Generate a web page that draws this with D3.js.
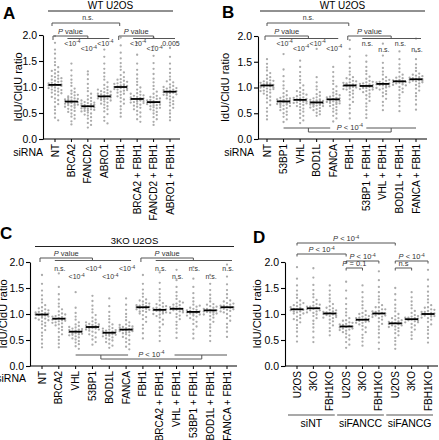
<!DOCTYPE html>
<html><head><meta charset="utf-8">
<script src="https://cdn.jsdelivr.net/npm/d3@7"></script>
<style>body{margin:0;background:#fff}svg{display:block}</style>
</head><body><svg id="c" width="439" height="440"></svg>
<script>
const FONT = '"Liberation Sans", Arial, Helvetica, sans-serif';
const yTicks = [0, 0.5, 1.0, 1.5, 2.0];

// ---------- Panel A (WT U2OS) ----------
const catsA = ["NT","BRCA2","FANCD2","ABRO1","FBH1","BRCA2 + FBH1","FANCD2 + FBH1","ABRO1 + FBH1"];
const mediansA = [1.04,0.72,0.63,0.82,1.00,0.77,0.71,0.91];
const dotsA = [
 [1.98,1.85,1.72,1.64,1.55,1.48,1.42,1.38,1.33,1.29,1.26,1.22,1.19,1.16,1.14,1.12,1.10,1.08,1.06,1.05,1.04,1.03,1.01,0.99,0.97,0.95,0.93,0.91,0.89,0.86,0.84,0.81,0.78,0.75,0.71,0.67,0.62,0.56,0.49,0.41,0.36,1.11,1.07,1.02,0.98,0.94,1.17,1.21,0.88,1.31],
 [1.45,1.32,1.22,1.14,1.08,1.02,0.97,0.93,0.90,0.87,0.84,0.82,0.80,0.78,0.77,0.75,0.74,0.73,0.72,0.71,0.70,0.69,0.68,0.67,0.66,0.65,0.63,0.62,0.60,0.58,0.56,0.54,0.52,0.49,0.46,0.43,0.39,0.34,0.28,0.76,0.71,0.68,0.64,0.79,0.85],
 [1.30,1.24,1.15,1.06,0.98,0.92,0.87,0.83,0.79,0.76,0.73,0.71,0.69,0.67,0.66,0.65,0.64,0.63,0.62,0.61,0.60,0.59,0.58,0.57,0.56,0.54,0.53,0.51,0.49,0.47,0.45,0.42,0.39,0.35,0.31,0.27,0.22,0.68,0.62,0.58,0.55,0.70,0.74],
 [1.72,1.58,1.45,1.35,1.27,1.20,1.14,1.09,1.04,1.00,0.97,0.94,0.92,0.90,0.88,0.86,0.85,0.84,0.83,0.82,0.81,0.80,0.79,0.78,0.77,0.75,0.74,0.72,0.70,0.68,0.66,0.63,0.60,0.57,0.53,0.48,0.42,0.35,0.30,0.87,0.83,0.79,0.76,0.91,0.95],
 [1.95,1.80,1.66,1.55,1.46,1.39,1.33,1.28,1.23,1.19,1.15,1.12,1.09,1.07,1.05,1.03,1.02,1.01,1.00,0.99,0.98,0.97,0.95,0.93,0.91,0.89,0.87,0.85,0.82,0.79,0.76,0.72,0.68,0.63,0.57,0.50,0.43,1.06,1.02,0.96,1.10,1.14,0.94],
 [1.85,1.62,1.45,1.33,1.24,1.16,1.10,1.04,0.99,0.95,0.91,0.88,0.85,0.83,0.81,0.79,0.78,0.77,0.76,0.75,0.74,0.73,0.71,0.70,0.68,0.66,0.64,0.62,0.60,0.57,0.54,0.51,0.47,0.43,0.38,0.33,0.80,0.76,0.72,0.84,0.69,0.87],
 [1.95,1.78,1.60,1.46,1.35,1.25,1.16,1.09,1.02,0.96,0.91,0.87,0.83,0.80,0.77,0.75,0.73,0.72,0.71,0.70,0.69,0.68,0.66,0.65,0.63,0.61,0.59,0.57,0.55,0.52,0.49,0.46,0.42,0.38,0.33,0.27,0.74,0.70,0.67,0.64,0.78,0.60,0.81],
 [1.75,1.58,1.45,1.35,1.27,1.20,1.14,1.09,1.05,1.02,0.99,0.97,0.95,0.93,0.92,0.91,0.90,0.89,0.88,0.86,0.84,0.82,0.80,0.78,0.76,0.73,0.70,0.67,0.64,0.60,0.55,0.49,0.42,0.36,0.94,0.90,0.87,0.98,1.00,0.85,1.11]
];

// ---------- Panel B (WT U2OS) ----------
const catsB = ["NT","53BP1","VHL","BOD1L","FANCA","FBH1","53BP1 + FBH1","VHL + FBH1","BOD1L + FBH1","FANCA + FBH1"];
const mediansB = [1.04,0.73,0.76,0.71,0.77,1.04,1.03,1.07,1.12,1.16];
const dotsB = [
 [1.55,1.46,1.39,1.33,1.28,1.24,1.20,1.17,1.14,1.12,1.10,1.08,1.06,1.05,1.04,1.03,1.02,1.01,1.00,0.98,0.96,0.94,0.92,0.90,0.88,0.85,0.82,0.79,0.75,0.71,0.66,0.60,0.53,0.45,0.38,1.09,1.05,1.00,0.97,1.13,1.07,0.93],
 [1.65,1.35,1.22,1.12,1.04,0.98,0.93,0.89,0.85,0.82,0.80,0.78,0.76,0.75,0.74,0.73,0.72,0.71,0.70,0.69,0.68,0.67,0.65,0.64,0.62,0.60,0.58,0.56,0.53,0.50,0.47,0.43,0.38,0.33,0.77,0.72,0.70,0.66,0.79,0.74],
 [1.52,1.40,1.30,1.22,1.15,1.09,1.04,0.99,0.95,0.91,0.88,0.85,0.83,0.81,0.79,0.78,0.77,0.76,0.75,0.74,0.73,0.71,0.70,0.68,0.66,0.64,0.62,0.59,0.56,0.53,0.49,0.45,0.41,0.36,0.31,0.80,0.76,0.72,0.86,0.69,0.93],
 [1.75,1.20,1.10,1.02,0.96,0.91,0.87,0.84,0.81,0.79,0.77,0.75,0.74,0.73,0.72,0.71,0.70,0.69,0.68,0.67,0.66,0.65,0.64,0.63,0.61,0.60,0.58,0.56,0.54,0.51,0.48,0.45,0.74,0.70,0.68,0.72,0.66,0.76],
 [1.40,1.30,1.21,1.13,1.07,1.02,0.97,0.93,0.90,0.87,0.84,0.82,0.80,0.79,0.78,0.77,0.76,0.75,0.74,0.73,0.72,0.70,0.68,0.66,0.64,0.62,0.59,0.56,0.53,0.49,0.45,0.40,0.34,0.81,0.77,0.74,0.71,0.85,0.69],
 [1.92,1.75,1.60,1.48,1.38,1.31,1.25,1.20,1.16,1.13,1.10,1.08,1.06,1.05,1.04,1.03,1.02,1.01,1.00,0.98,0.96,0.94,0.91,0.88,0.85,0.81,0.77,0.72,0.66,0.59,0.50,0.40,1.09,1.05,1.01,1.12,0.97,1.18],
 [1.62,1.50,1.40,1.32,1.26,1.21,1.17,1.13,1.10,1.08,1.06,1.05,1.04,1.03,1.02,1.01,1.00,0.99,0.97,0.95,0.93,0.91,0.88,0.85,0.82,0.78,0.74,0.69,0.63,0.56,0.48,0.41,1.07,1.03,0.99,1.11,0.96],
 [1.85,1.62,1.48,1.38,1.31,1.25,1.20,1.16,1.13,1.11,1.09,1.08,1.07,1.06,1.05,1.04,1.02,1.00,0.98,0.96,0.93,0.90,0.87,0.83,0.78,0.72,0.65,0.56,1.10,1.07,1.03,1.15,0.99],
 [1.70,1.55,1.45,1.37,1.30,1.25,1.21,1.18,1.15,1.13,1.12,1.11,1.10,1.09,1.08,1.06,1.04,1.01,0.98,0.95,0.91,0.86,0.80,0.73,0.64,0.54,1.14,1.12,1.09,1.19,1.05],
 [1.95,1.70,1.55,1.45,1.38,1.32,1.27,1.23,1.20,1.18,1.17,1.16,1.15,1.14,1.13,1.12,1.10,1.08,1.05,1.02,0.98,0.94,0.89,0.83,0.76,0.67,0.57,1.19,1.16,1.13,1.22,1.10,1.25]
];

// ---------- Panel C (3KO U2OS) ----------
const catsC = ["NT","BRCA2","VHL","53BP1","BOD1L","FANCA","FBH1","BRCA2 + FBH1","VHL + FBH1","53BP1 + FBH1","BOD1L + FBH1","FANCA + FBH1"];
const mediansC = [0.99,0.91,0.66,0.75,0.64,0.70,1.13,1.08,1.10,1.04,1.07,1.13];
const dotsC = [
 [1.75,1.58,1.45,1.36,1.28,1.22,1.17,1.13,1.09,1.06,1.04,1.02,1.01,1.00,0.99,0.98,0.97,0.95,0.93,0.91,0.89,0.86,0.83,0.80,0.77,0.73,0.69,0.64,0.58,0.51,0.43,0.36,1.03,0.99,0.96,1.07,0.92,1.11,0.88],
 [1.78,1.52,1.38,1.28,1.20,1.14,1.09,1.05,1.01,0.98,0.96,0.94,0.92,0.91,0.90,0.89,0.88,0.86,0.84,0.82,0.80,0.78,0.75,0.72,0.69,0.65,0.61,0.56,0.50,0.43,0.36,0.95,0.91,0.87,0.99,0.83],
 [1.42,1.12,1.02,0.95,0.89,0.84,0.80,0.77,0.74,0.72,0.70,0.68,0.67,0.66,0.65,0.64,0.63,0.62,0.60,0.59,0.57,0.55,0.53,0.51,0.48,0.45,0.42,0.38,0.33,0.69,0.66,0.63,0.71,0.61,0.75],
 [1.35,1.25,1.16,1.09,1.03,0.98,0.93,0.89,0.86,0.83,0.81,0.79,0.77,0.76,0.75,0.74,0.73,0.72,0.70,0.68,0.66,0.64,0.61,0.58,0.55,0.51,0.46,0.41,0.78,0.75,0.72,0.80,0.70,0.84],
 [1.30,1.15,1.04,0.96,0.90,0.84,0.80,0.76,0.73,0.70,0.68,0.66,0.65,0.64,0.63,0.62,0.61,0.60,0.58,0.57,0.55,0.53,0.51,0.49,0.46,0.43,0.39,0.35,0.67,0.64,0.61,0.69,0.59,0.72],
 [1.30,1.18,1.08,1.00,0.94,0.88,0.84,0.80,0.77,0.75,0.73,0.72,0.71,0.70,0.69,0.68,0.67,0.65,0.63,0.61,0.59,0.56,0.53,0.50,0.46,0.42,0.37,0.32,0.74,0.70,0.67,0.76,0.64,0.79],
 [1.75,1.58,1.47,1.39,1.33,1.28,1.24,1.21,1.18,1.16,1.15,1.14,1.13,1.12,1.11,1.10,1.08,1.06,1.04,1.01,0.98,0.94,0.90,0.85,0.79,0.72,0.63,0.53,1.17,1.13,1.09,1.20,1.05,1.26],
 [1.80,1.60,1.48,1.39,1.32,1.26,1.21,1.17,1.14,1.12,1.10,1.09,1.08,1.07,1.06,1.05,1.03,1.01,0.99,0.96,0.93,0.89,0.85,0.80,0.74,0.67,0.58,0.48,1.11,1.08,1.04,1.15,1.00,1.19],
 [1.85,1.65,1.52,1.42,1.35,1.29,1.24,1.20,1.17,1.14,1.12,1.11,1.10,1.09,1.08,1.07,1.05,1.03,1.00,0.97,0.94,0.90,0.85,0.79,0.72,0.64,0.54,1.13,1.10,1.06,1.18,1.02,1.22],
 [1.90,1.68,1.52,1.40,1.31,1.24,1.18,1.14,1.10,1.08,1.06,1.05,1.04,1.03,1.02,1.01,0.99,0.97,0.95,0.92,0.89,0.85,0.81,0.76,0.70,0.62,0.53,1.07,1.04,1.00,1.12,0.97,1.16],
 [1.75,1.58,1.46,1.37,1.30,1.24,1.19,1.15,1.12,1.10,1.08,1.07,1.06,1.05,1.04,1.03,1.01,0.99,0.96,0.93,0.89,0.85,0.80,0.74,0.67,0.58,0.48,1.10,1.07,1.03,1.14,0.99,1.18],
 [1.95,1.72,1.57,1.46,1.38,1.31,1.26,1.21,1.18,1.16,1.14,1.13,1.12,1.11,1.10,1.08,1.06,1.03,1.00,0.96,0.92,0.87,0.81,0.74,0.66,0.56,1.16,1.13,1.09,1.20,1.05,1.24]
];

// ---------- Panel D ----------
const catsD = ["siNT|U2OS","siNT|3KO","siNT|FBH1KO","siFANCC|U2OS","siFANCC|3KO","siFANCC|FBH1KO","siFANCG|U2OS","siFANCG|3KO","siFANCG|FBH1KO"];
const groupsD = ["siNT","siFANCC","siFANCG"];
const mediansD = [1.09,1.11,1.01,0.76,0.89,1.01,0.82,0.90,1.00];
const dotsD = [
 [1.90,1.68,1.55,1.45,1.37,1.31,1.26,1.22,1.18,1.15,1.12,1.10,1.09,1.08,1.07,1.05,1.03,1.01,0.98,0.95,0.92,0.88,0.84,0.79,0.73,0.66,0.57,0.47,1.13,1.09,1.05,1.17,1.01,1.21,0.90],
 [1.88,1.70,1.56,1.46,1.38,1.32,1.27,1.23,1.19,1.16,1.14,1.12,1.11,1.10,1.09,1.07,1.05,1.02,0.99,0.96,0.92,0.87,0.81,0.74,0.66,0.55,0.46,1.14,1.11,1.07,1.18,1.03],
 [1.55,1.45,1.37,1.30,1.24,1.19,1.15,1.11,1.08,1.05,1.03,1.02,1.01,1.00,0.99,0.98,0.96,0.94,0.92,0.89,0.86,0.82,0.78,0.73,0.67,0.59,1.04,1.01,0.97,1.07,0.93,1.12],
 [1.62,1.45,1.30,1.19,1.10,1.03,0.97,0.92,0.88,0.84,0.81,0.79,0.77,0.76,0.75,0.74,0.72,0.70,0.68,0.65,0.62,0.59,0.55,0.51,0.46,0.41,0.35,0.80,0.76,0.72,0.83,0.69,0.87],
 [1.55,1.42,1.32,1.24,1.17,1.11,1.06,1.02,0.98,0.95,0.93,0.91,0.90,0.89,0.88,0.87,0.85,0.83,0.80,0.77,0.74,0.70,0.65,0.60,0.54,0.47,0.39,0.92,0.89,0.86,0.96,0.83,1.00],
 [1.82,1.65,1.52,1.42,1.34,1.28,1.22,1.17,1.13,1.09,1.06,1.04,1.02,1.01,1.00,0.99,0.97,0.95,0.92,0.89,0.85,0.81,0.76,0.70,0.63,0.55,0.45,0.33,1.05,1.01,0.97,1.09,0.94,1.13],
 [1.50,1.38,1.27,1.18,1.11,1.05,1.00,0.96,0.92,0.89,0.86,0.84,0.83,0.82,0.81,0.80,0.78,0.76,0.73,0.70,0.67,0.63,0.59,0.54,0.48,0.41,0.33,0.85,0.82,0.78,0.88,0.75,0.92],
 [1.42,1.32,1.24,1.17,1.11,1.06,1.02,0.98,0.95,0.93,0.92,0.91,0.90,0.89,0.88,0.86,0.84,0.81,0.78,0.74,0.70,0.65,0.59,0.52,0.93,0.90,0.87,0.96,0.84],
 [1.85,1.66,1.53,1.43,1.35,1.28,1.22,1.17,1.13,1.09,1.06,1.04,1.02,1.01,1.00,0.99,0.97,0.95,0.92,0.89,0.85,0.80,0.75,0.69,0.62,0.54,0.45,1.04,1.00,0.96,1.08,0.93,1.12,0.98]
];

// ---------- drawing ----------
const svg = d3.select("#c");
const DOT = "#ababab", LINE = "#555", TXT = "#333";
const R = 1.15;

function swarm(vals, y, r, maxW) {
  const placed = [], step = 2 * r + 0.9, minD2 = (2 * r + 0.7) ** 2;
  vals.forEach(v => {
    const cy = y(v);
    let best = null, bestScore = -1;
    for (let k = 0; k < 40; k++) {
      const dx = k === 0 ? 0 : (k % 2 ? 1 : -1) * Math.ceil(k / 2) * step;
      if (Math.abs(dx) > maxW) break;
      let md = Infinity;
      placed.forEach(p => { const d = (p.dx - dx) ** 2 + (p.cy - cy) ** 2; if (d < md) md = d; });
      if (md >= minD2) { best = dx; break; }
      if (md > bestScore) { bestScore = md; best = dx; }
    }
    placed.push({dx: best, cy});
  });
  return placed;
}

function panel(cfg, cats, medians, dots, labelFn) {
  const g = svg.append("g");
  const x = d3.scalePoint().domain(cats).range([cfg.c0, cfg.c1]);
  const y = d3.scaleLinear().domain([0, 2]).range([cfg.y0, cfg.y1]);
  cats.forEach((c, i) => {
    const pts = swarm(dots[i], y, R, 7);
    g.append("g").selectAll("circle").data(pts).join("circle")
      .attr("cx", p => x(c) + p.dx).attr("cy", p => p.cy).attr("r", R).attr("fill", DOT);
  });
  g.append("g").selectAll("line").data(medians).join("line")
    .attr("x1", (d, i) => x(cats[i]) - 6.5).attr("x2", (d, i) => x(cats[i]) + 6.5)
    .attr("y1", d => y(d)).attr("y2", d => y(d))
    .attr("stroke", "#000").attr("stroke-width", 1.8);
  const ya = g.append("g").attr("transform", `translate(${cfg.x0},0)`)
    .call(d3.axisLeft(y).tickValues(yTicks).tickFormat(d3.format(".1f")).tickSize(4).tickSizeOuter(0).tickPadding(2));
  ya.attr("font-family", FONT).attr("font-size", 10.5);
  ya.selectAll("path,line").attr("stroke", "#000").attr("stroke-width", 1.1);
  g.append("line").attr("x1", cfg.x0).attr("x2", cfg.x1).attr("y1", cfg.y0).attr("y2", cfg.y0)
    .attr("stroke", "#000").attr("stroke-width", 1.1);
  g.append("g").selectAll("line").data(cats).join("line")
    .attr("x1", c => x(c)).attr("x2", c => x(c)).attr("y1", cfg.y0).attr("y2", cfg.y0 + 3)
    .attr("stroke", "#000").attr("stroke-width", 1);
  g.append("g").selectAll("text").data(cats).join("text")
    .attr("transform", c => `translate(${x(c)},${cfg.y0 + 5}) rotate(-90)`)
    .attr("dy", "0.35em").attr("text-anchor", "end")
    .attr("font-family", FONT).attr("font-size", 10).attr("fill", "#000")
    .text(c => labelFn ? labelFn(c) : c);
  g.append("text").attr("transform", `translate(${cfg.ylx},${(cfg.y0 + cfg.y1) / 2}) rotate(-90)`)
    .attr("text-anchor", "middle").attr("font-family", FONT).attr("font-size", 11).text("IdU/CldU ratio");
  g.append("text").attr("x", cfg.lx).attr("y", cfg.ly).attr("font-family", FONT)
    .attr("font-size", 17).attr("font-weight", "bold").text(cfg.letter);
  return {g, x, y};
}

function sup(sel, base, exp, pItalic) {
  if (pItalic) sel.append("tspan").attr("font-style", "italic").text("P");
  sel.append("tspan").text(base);
  sel.append("tspan").attr("dy", -2.5).attr("font-size", 4.8).text(exp);
}
function txt(g, x, y, size) {
  return g.append("text").attr("x", x).attr("y", y).attr("text-anchor", "middle")
    .attr("font-family", FONT).attr("font-size", size || 7).attr("fill", TXT);
}
function bracket(g, x1, x2, y, drop) {
  g.append("path").attr("d", `M${x1},${y + drop}V${y}H${x2}V${y + drop}`)
    .attr("fill", "none").attr("stroke", LINE).attr("stroke-width", 1);
}
function hline(g, x1, x2, y, col) {
  return g.append("line").attr("x1", x1).attr("x2", x2).attr("y1", y).attr("y2", y)
    .attr("stroke", col || LINE).attr("stroke-width", 1);
}
function groupComp(P, ctrl, grp, yTop, labels, offs) {
  const {g, x} = P;
  const xc = x(ctrl) - 2, xs = grp.map(c => x(c));
  const mid = (xs[0] + xs[xs.length - 1]) / 2;
  g.append("path").attr("d", `M${xc},${yTop + 4}V${yTop}H${mid}V${yTop + 2.5}`)
    .attr("fill", "none").attr("stroke", LINE).attr("stroke-width", 1);
  hline(g, xs[0] - 4, xs[xs.length - 1] + 5, yTop + 2.5);
  const pt = txt(g, (xc + mid) / 2, yTop - 2.5, 7.5);
  pt.append("tspan").attr("font-style", "italic").text("P");
  pt.append("tspan").text(" value");
  labels.forEach((l, i) => {
    const t = txt(g, xs[i] + 1, yTop + offs[i % 2], 7);
    if (l === "p4") sup(t, "<10", "-4"); else t.text(l);
  });
}
function title(P, text, x1, x2, y, size) {
  hline(P.g, x1, x2, y + 2.5, "#222");
  txt(P.g, (x1 + x2) / 2, y, size).attr("fill", "#000").text(text);
}

// ---- A ----
const A = panel({x0: 43, x1: 180, y0: 139, y1: 35, c0: 55, c1: 170, ylx: 22, lx: 3, ly: 19, letter: "A"},
  catsA, mediansA, dotsA);
title(A, "WT U2OS", 48, 173, 8.5, 10);
bracket(A.g, A.x("NT") - 3, A.x("FBH1") - 1, 23, 3);
txt(A.g, (A.x("NT") + A.x("FBH1")) / 2, 20, 7).text("n.s.");
groupComp(A, "NT", catsA.slice(1, 4), 36, ["p4", "p4", "p4"], [9.5, 15]);
groupComp(A, "FBH1", catsA.slice(5, 8), 36, ["p4", "p4", "0.005"], [9.5, 15]);
A.g.append("text").attr("x", 43).attr("y", 156).attr("text-anchor", "end").attr("font-family", FONT).attr("font-size", 10.5).text("siRNA");

// ---- B ----
const B = panel({x0: 258, x1: 427, y0: 139, y1: 36, c0: 267, c1: 416, ylx: 229, lx: 222, ly: 18, letter: "B"},
  catsB, mediansB, dotsB);
title(B, "WT U2OS", 260, 425, 8.5, 10);
bracket(B.g, B.x("NT"), B.x("FBH1") - 1, 23, 3);
txt(B.g, (B.x("NT") + B.x("FBH1")) / 2, 20, 7).text("n.s.");
groupComp(B, "NT", catsB.slice(1, 5), 36, ["p4", "p4", "p4", "p4"], [9.5, 14.5]);
groupComp(B, "FBH1", catsB.slice(6, 10), 36, ["n.s.", "n.s.", "n.s.", "n.s."], [9.5, 15.5]);
{
  const xs1 = [B.x("53BP1"), B.x("FANCA")], xs2 = [B.x("53BP1 + FBH1"), B.x("FANCA + FBH1")];
  const yb = 128;
  hline(B.g, xs1[0], xs1[1] - 3, yb); hline(B.g, xs2[0], xs2[1], yb);
  B.g.append("path").attr("d", `M${(xs1[0] + xs1[1]) / 2},${yb}V${yb + 4}H${(xs2[0] + xs2[1]) / 2}V${yb}`)
    .attr("fill", "none").attr("stroke", LINE);
  sup(txt(B.g, (xs1[1] + xs2[0]) / 2, yb + 1.5, 7.5), " < 10", "-4", true);
}
B.g.append("text").attr("x", 254).attr("y", 156).attr("text-anchor", "end").attr("font-family", FONT).attr("font-size", 10.5).text("siRNA");

// ---- C ----
const C = panel({x0: 30, x1: 237, y0: 366, y1: 262, c0: 42, c1: 227, ylx: 7, lx: 0, ly: 239, letter: "C"},
  catsC, mediansC, dotsC);
title(C, "3KO U2OS", 35, 234, 244, 9.5);
groupComp(C, "NT", catsC.slice(1, 6), 258, ["n.s.", "p4", "p4", "p4", "p4"], [13, 21]);
groupComp(C, "FBH1", catsC.slice(7, 12), 258, ["n.s.", "n.s.", "n.s.", "n.s.", "n.s."], [13, 21]);
{
  const xs1 = [C.x("VHL"), C.x("FANCA")], xs2 = [C.x("VHL + FBH1"), C.x("FANCA + FBH1")];
  const yb = 355;
  hline(C.g, xs1[0], xs1[1] + 2, yb); hline(C.g, xs2[0] - 2, xs2[1], yb);
  C.g.append("path").attr("d", `M${(xs1[0] + xs1[1]) / 2},${yb}V${yb + 4}H${(xs2[0] + xs2[1]) / 2}V${yb}`)
    .attr("fill", "none").attr("stroke", LINE);
  sup(txt(C.g, (xs1[1] + xs2[0]) / 2, yb + 1.5, 7.5), " < 10", "-4", true);
}
C.g.append("text").attr("x", 26).attr("y", 382).attr("text-anchor", "end").attr("font-family", FONT).attr("font-size", 10.5).text("siRNA");

// ---- D ----
const D = panel({x0: 285, x1: 438, y0: 366, y1: 262, c0: 297, c1: 428, ylx: 261, lx: 253, ly: 243, letter: "D"},
  catsD, mediansD, dotsD, c => c.split("|")[1]);
{
  const x = c => D.x(c);
  const comps = [
    ["siNT|U2OS", "siFANCG|U2OS", 243, "p"],
    ["siNT|U2OS", "siFANCC|U2OS", 254, "p"],
    ["siFANCC|U2OS", "siFANCC|FBH1KO", 261, "p"],
    ["siFANCC|U2OS", "siFANCC|3KO", 268, "P = 0.1"],
    ["siFANCG|U2OS", "siFANCG|FBH1KO", 261, "p"],
    ["siFANCG|U2OS", "siFANCG|3KO", 268, "n.s"]
  ];
  comps.forEach(([a, b, yy, l]) => {
    bracket(D.g, x(a), x(b), yy, 2.5);
    const t = txt(D.g, (x(a) + x(b)) / 2, yy - 2, 7.5);
    if (l === "p") sup(t, " < 10", "-4", true);
    else if (l.startsWith("P")) { t.append("tspan").attr("font-style", "italic").text("P"); t.append("tspan").text(" = 0.1"); }
    else t.text(l);
  });
  groupsD.forEach(gname => {
    const members = catsD.filter(c => c.startsWith(gname + "|")).map(x);
    const x1 = members[0] - 9, x2 = members[members.length - 1] + 5;
    D.g.append("line").attr("x1", x1).attr("x2", x2).attr("y1", 415).attr("y2", 415).attr("stroke", LINE).attr("stroke-width", 1.2);
    D.g.append("text").attr("x", (x1 + x2) / 2).attr("y", 427).attr("text-anchor", "middle")
      .attr("font-family", FONT).attr("font-size", 10.5).text(gname);
  });
}
</script></body></html>
